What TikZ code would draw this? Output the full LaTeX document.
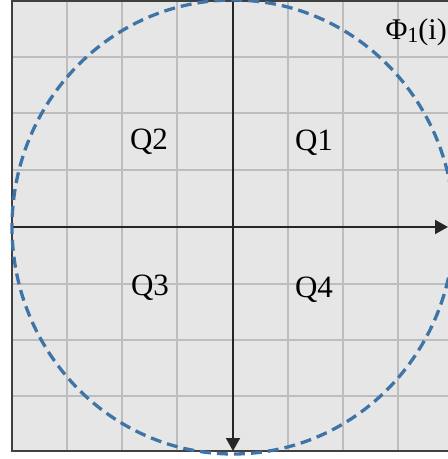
\documentclass[tikz,border=0pt]{standalone}
\usepackage{fontspec}
\setmainfont{Liberation Serif}
\usetikzlibrary{arrows.meta}
\definecolor{bgc}{HTML}{E6E6E6}
\definecolor{gridc}{HTML}{BDBDBD}
\definecolor{framec}{HTML}{404040}
\definecolor{axisc}{HTML}{262626}
\definecolor{circc}{HTML}{3F74A6}
\tikzset{
  gridline/.style={gridc, line width=2pt},
  axisline/.style={axisc, line width=2pt, -{Triangle[length=13pt,width=14pt]}},
  lbl/.style={font=\fontsize{31}{33}\selectfont, inner sep=0pt},
  ring/.style={circc, line width=3.3pt, dash pattern=on 11pt off 6pt},
}
\begin{document}
\begin{tikzpicture}[x=1pt,y=-1pt]
\useasboundingbox (0,0) rectangle (448,459);
\fill[bgc] (12,1) rectangle (448,451);
\foreach \x in {67,122,177,288,343,398} \draw[gridline] (\x,1) -- (\x,451);
\foreach \y in {57,113,170,284,340,396} \draw[gridline] (12,\y) -- (448,\y);
\draw[framec, line width=2pt] (448,1) -- (12,1) -- (12,451) -- (448,451);
\coordinate (top) at (233,1);
\coordinate (bot) at (233,451);
\coordinate (lft) at (12,227);
\coordinate (rgt) at (448,227);
\draw[axisline] (top) -- (bot);
\draw[axisline] (lft) -- (rgt);
\draw[ring] (233,227) ellipse [x radius=221, y radius=227];
\node[lbl] (q2) at (149,142) {Q2};
\node[lbl] (q1) at (314,143) {Q1};
\node[lbl] (q3) at (150,288) {Q3};
\node[lbl] (q4) at (314,290) {Q4};
\node[lbl, font=\fontsize{30}{32}\selectfont, anchor=east] (phi) at (447,32) {Φ\raisebox{-0.25ex}{\fontsize{22}{24}\selectfont 1}(i)};
\end{tikzpicture}
\end{document}
